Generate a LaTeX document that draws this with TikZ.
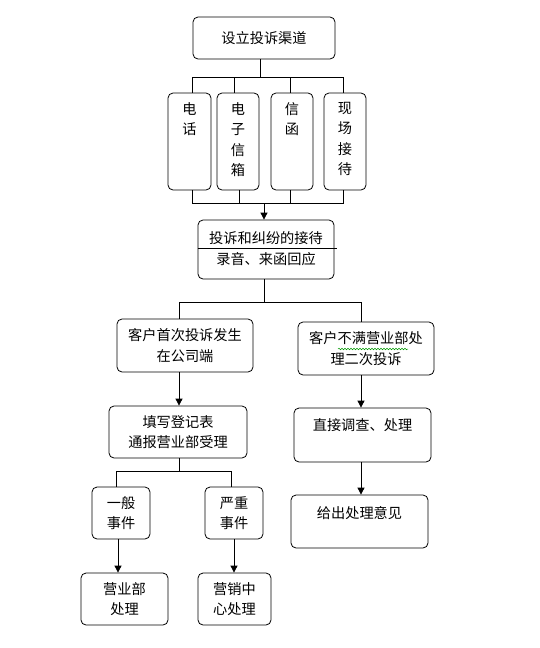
\documentclass[tikz,border=0pt]{standalone}
\usepackage{fontspec}
\setmainfont{Noto Sans CJK SC}
\usetikzlibrary{arrows.meta,decorations.pathmorphing}
\newcommand{\fsz}{\fontsize{14.2}{20.5}\selectfont}
\begin{document}
\begin{tikzpicture}[x=1pt,y=-1pt,
  box/.style={draw,rounded corners=5pt,line width=0.8pt,inner sep=0pt,align=center,font=\fsz},
  lbl/.style={inner sep=0pt,align=center,font=\fsz},
  ln/.style={line width=0.8pt},
  arr/.style={line width=0.8pt,-{Triangle[width=7pt,length=7pt]}}]
\fill[white] (0,0) rectangle (539,648);
\useasboundingbox (0,0) rectangle (539,648);

% boxes
\node[box,minimum width=142pt,minimum height=42pt] (top) at (264,38) {设立投诉渠道};

\node[box,minimum width=43pt,minimum height=97pt] (c1) at (189.5,141.5) {};
\node[box,minimum width=42pt,minimum height=97pt] (c2) at (238,141.5) {};
\node[box,minimum width=42pt,minimum height=97pt] (c3) at (292,141.5) {};
\node[box,minimum width=42pt,minimum height=97pt] (c4) at (345,141.5) {};
\node[lbl,anchor=north] (c1t) at (189.5,102) {电\\话};
\node[lbl,anchor=north] (c2t) at (238,102) {电\\子\\信\\箱};
\node[lbl,anchor=north] (c3t) at (292,102) {信\\函};
\node[lbl,anchor=north] (c4t) at (345,102) {现\\场\\接\\待};

\node[box,minimum width=136pt,minimum height=59pt] (recv) at (266,249.5) {};
\node[lbl] (recv1) at (266,238) {投诉和纠纷的接待};
\node[lbl] (recv2) at (266,259) {录音、来函回应};
\draw[ln] (recv.west |- 0,248) -- (337,248);

\node[box,minimum width=136pt,minimum height=53pt] (first) at (185,345.5) {客户首次投诉发生\\在公司端};
\node[box,minimum width=136pt,minimum height=53pt] (second) at (366,348.5) {客户不满营业部处\\理二次投诉};
\draw[green!60!black,line width=0.5pt,decorate,decoration={snake,amplitude=0.8pt,segment length=3pt}] (338,349) -- (408,349);

\node[box,minimum width=138pt,minimum height=52pt] (fill) at (178,432) {填写登记表\\通报营业部受理};
\node[box,minimum width=137pt,minimum height=54pt] (direct) at (362.5,435) {};
\node[lbl] (directt) at (362.5,425) {直接调查、处理};

\node[box,minimum width=58pt,minimum height=52pt] (general) at (121,513) {一般\\事件};
\node[box,minimum width=58pt,minimum height=52pt] (serious) at (234,513) {严重\\事件};
\node[box,minimum width=87pt,minimum height=52pt] (dept) at (124.5,599) {营业部\\处理};
\node[box,minimum width=73pt,minimum height=52pt] (mkt) at (234.5,599) {营销中\\心处理};

\node[box,minimum width=137pt,minimum height=53pt] (opinion) at (359.5,521.5) {};
\node[lbl] (opiniont) at (359.5,513) {给出处理意见};

% connectors
\coordinate (bus) at (260,77);
\coordinate (t1) at (192,77);
\coordinate (t2) at (234,77);
\coordinate (t3) at (290,77);
\coordinate (t4) at (343,77);
\draw[ln] (bus |- top.south) -- (bus);
\draw[ln] (t1) -- (t4);
\draw[ln] (t1) -- (t1 |- c1.north);
\draw[ln] (t2) -- (t2 |- c2.north);
\draw[ln] (t3) -- (t3 |- c3.north);
\draw[ln] (t4) -- (t4 |- c4.north);

\coordinate (b1) at (192,203);
\coordinate (b2) at (239,203);
\coordinate (b3) at (290,203);
\coordinate (b4) at (343,203);
\coordinate (bm) at (264,203);
\draw[ln] (b1 |- c1.south) -- (b1) -- (b4) -- (b4 |- c4.south);
\draw[ln] (b2 |- c2.south) -- (b2);
\draw[ln] (b3 |- c3.south) -- (b3);
\draw[arr] (bm) -- (bm |- recv.north);

\coordinate (s) at (264,302);
\coordinate (sl) at (179,302);
\coordinate (sr) at (361,302);
\draw[ln] (s |- recv.south) -- (s);
\draw[ln] (sl |- first.north) -- (sl) -- (sr) -- (sr |- second.north);
\draw[arr] (sl |- first.south) -- (sl |- fill.north);
\draw[arr] (sr |- second.south) -- (sr |- direct.north);
\draw[arr] (sr |- direct.south) -- (sr |- opinion.north);

\coordinate (f) at (179,471);
\coordinate (gl) at (116,471);
\coordinate (gr) at (231,471);
\draw[ln] (f |- fill.south) -- (f);
\draw[ln] (gl |- general.north) -- (gl) -- (gr) -- (gr |- serious.north);

\coordinate (al) at (118,0);
\coordinate (ar) at (234,0);
\draw[arr] (al |- general.south) -- (al |- dept.north);
\draw[arr] (ar |- serious.south) -- (ar |- mkt.north);
\end{tikzpicture}
\end{document}
